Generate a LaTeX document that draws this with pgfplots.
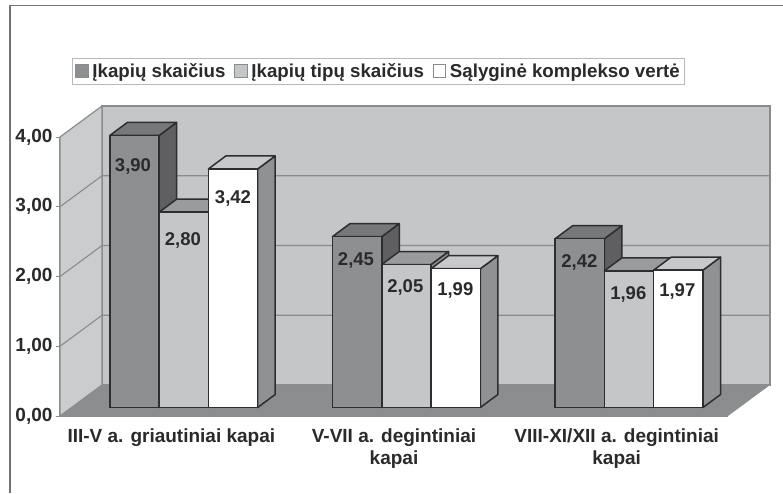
\documentclass[border=0pt]{standalone}
\usepackage{pgfplots}
\pgfplotsset{compat=1.18}
\usepackage{fontspec}
\setmainfont{Liberation Sans}
\definecolor{edge}{HTML}{2E2E30}
\definecolor{wall}{HTML}{C4C6C8}
\definecolor{lwall}{HTML}{CBCCCD}
\definecolor{floorc}{HTML}{8C8D8F}
\definecolor{gridc}{HTML}{8A8B8D}
\definecolor{txt}{HTML}{2A2A2C}
\definecolor{fa}{HTML}{8E8F91}\definecolor{ta}{HTML}{77787A}\definecolor{sa}{HTML}{5F5F62}
\definecolor{fb}{HTML}{C4C6C8}\definecolor{tb}{HTML}{9A9B9D}\definecolor{sb}{HTML}{8F8F91}
\definecolor{fc}{HTML}{FFFFFF}\definecolor{tc}{HTML}{C8C9CB}\definecolor{sc}{HTML}{909193}
% side and top faces of one bar: bar centre, value, top colour, side colour
\newcommand{\barfaces}[4]{%
  \pgfmathsetmacro\xl{#1-0.1107}\pgfmathsetmacro\xr{#1+0.1107}%
  \pgfmathsetmacro\xlb{\xl+0.0786}\pgfmathsetmacro\xrb{\xr+0.0786}%
  \pgfmathsetmacro\vb{#2+0.1864}%
  \edef\temp{\noexpand\addplot[forget plot,fill=#4,draw=edge,line width=1.5pt,line join=round,xshift=12.4pt,yshift=8.5pt] coordinates {(\xr,0) (\xrb,0.1864) (\xrb,\vb) (\xr,#2)} -- cycle;
  \noexpand\addplot[forget plot,fill=#3,draw=edge,line width=1.5pt,line join=round,xshift=12.4pt,yshift=8.5pt] coordinates {(\xl,#2) (\xr,#2) (\xrb,\vb) (\xlb,\vb)} -- cycle;}\temp}
\begin{document}
\begin{tikzpicture}[x=1pt,y=1pt]
\path[use as bounding box] (0,0) rectangle (783,493);
\draw[color=gray!90!black,line width=1.5pt] (10,0) -- (10,487.3) -- (783,487.3);
\begin{axis}[
  at={(60pt,77pt)},anchor=origin,
  scale only axis,width=668pt,height=279pt,
  xmin=0,xmax=3,ymin=0,ymax=4,clip=false,
  axis x line*=bottom,axis y line*=left,
  axis line style={draw=gridc,line width=1.2pt,-},
  tick style={draw=gridc,line width=1pt},
  ytick={0,1,2,3,4},
  major tick length=4pt,
  tick align=outside,
  xtick={0.5,1.5,2.5},
  x tick style={draw=none},
  xticklabels={III-V a. griautiniai kapai,V-VII a. degintiniai\\kapai,VIII-XI/XII a. degintiniai\\kapai},
  extra x ticks={0,1,2,3},extra x tick labels={},
  extra x tick style={tick style={draw=gridc,line width=1pt}},
  xticklabel style={align=center,font=\fontsize{19}{22}\selectfont\bfseries,text=txt,yshift=-5pt},
  yticklabel style={font=\fontsize{19}{20}\selectfont\bfseries,text=txt,xshift=0pt},
  /pgf/number format/.cd,fixed,fixed zerofill,precision=2,use comma,assume math mode=true,
  /pgfplots/.cd,
  legend style={at={(axis description cs:0.018,1.283)},anchor=north west,legend columns=3,
    draw=gridc!60,line width=0.8pt,font=\fontsize{18.7}{22}\selectfont\bfseries,text=txt,
    inner sep=3pt,/tikz/every even column/.append style={column sep=7pt},
    /tikz/every odd column/.append style={column sep=2pt}},
  legend cell align=left,
  legend image code/.code={\draw[#1,draw=gridc,line width=0.5pt] (0pt,-6pt) rectangle (12.5pt,6.5pt);},
]
\addlegendimage{fill=fa}
\addlegendimage{fill=fb}
\addlegendimage{fill=fc}
\legend{Įkapių skaičius,Įkapių tipų skaičius,Sąlyginė komplekso vertė}
% walls and floor
\addplot[forget plot,fill=wall,draw=gridc,line width=1.2pt] coordinates {(0.1886,0.4444) (3.1886,0.4444) (3.1886,4.4444) (0.1886,4.4444)} -- cycle;
\addplot[forget plot,fill=lwall,draw=gridc,line width=1.2pt] coordinates {(0,0) (0.1886,0.4444) (0.1886,4.4444) (0,4)} -- cycle;
\addplot[forget plot,fill=floorc,draw=none] coordinates {(0,0) (3,0) (3.1886,0.4444) (0.1886,0.4444)} -- cycle;
\addplot[forget plot,draw=gridc,line width=1.1pt] coordinates {(0,1) (0.1886,1.4444) (3.1886,1.4444)};
\addplot[forget plot,draw=gridc,line width=1.1pt] coordinates {(0,2) (0.1886,2.4444) (3.1886,2.4444)};
\addplot[forget plot,draw=gridc,line width=1.1pt] coordinates {(0,3) (0.1886,3.4444) (3.1886,3.4444)};
% series 1
\barfaces{0.2786}{3.90}{ta}{sa}\barfaces{1.2786}{2.45}{ta}{sa}\barfaces{2.2786}{2.42}{ta}{sa}
\addplot[forget plot,ybar,bar width=49.3pt,bar shift=-49.3pt,fill=fa,draw=edge,line width=1.5pt,xshift=12.4pt,yshift=8.5pt] coordinates {(0.5,3.90) (1.5,2.45) (2.5,2.42)};
% series 2
\barfaces{0.5}{2.80}{tb}{sb}\barfaces{1.5}{2.05}{tb}{sb}\barfaces{2.5}{1.96}{tb}{sb}
\addplot[forget plot,ybar,bar width=49.3pt,bar shift=0pt,fill=fb,draw=edge,line width=1.5pt,xshift=12.4pt,yshift=8.5pt] coordinates {(0.5,2.80) (1.5,2.05) (2.5,1.96)};
% series 3
\barfaces{0.7214}{3.42}{tc}{sc}\barfaces{1.7214}{1.99}{tc}{sc}\barfaces{2.7214}{1.97}{tc}{sc}
\addplot[forget plot,ybar,bar width=49.3pt,bar shift=49.3pt,fill=fc,draw=edge,line width=1.5pt,xshift=12.4pt,yshift=8.5pt] coordinates {(0.5,3.42) (1.5,1.99) (2.5,1.97)};
% data labels
\begin{scope}[every node/.style={font=\fontsize{18.5}{20}\selectfont\bfseries,text=txt,inner sep=0pt}]
\node at (axis cs:0.3278,3.584) {3,90};
\node at (axis cs:0.5516,2.523) {2,80};
\node at (axis cs:0.7769,3.125) {3,42};
\node at (axis cs:1.3292,2.227) {2,45};
\node at (axis cs:1.5507,1.839) {2,05};
\node at (axis cs:1.7753,1.806) {1,99};
\node at (axis cs:2.3327,2.204) {2,42};
\node at (axis cs:2.5522,1.749) {1,96};
\node at (axis cs:2.7723,1.792) {1,97};
\end{scope}
\end{axis}
\end{tikzpicture}
\end{document}
